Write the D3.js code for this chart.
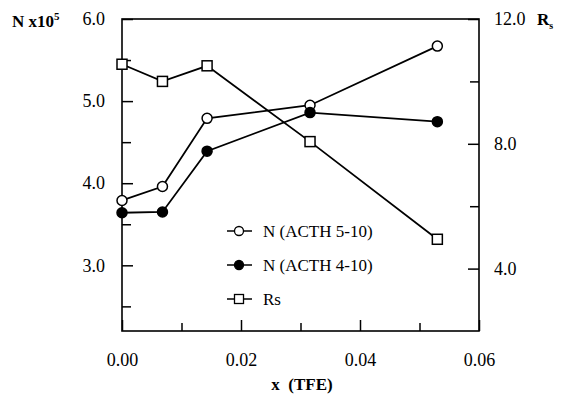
<!DOCTYPE html>
<html>
<head>
<meta charset="utf-8">
<script src="https://d3js.org/d3.v7.min.js"></script>
<style>
  body { margin: 0; background: #fff; }
  svg { display: block; font-family: "Liberation Serif", "Times New Roman", serif; }
  .tick line { stroke: #000; stroke-width: 1.5px; }
  .tick text { font-family: "Liberation Serif", "Times New Roman", serif; font-size: 18px; fill: #000; }
</style>
</head>
<body>
<script>
// data
var tfe = [0.0, 0.0068, 0.0143, 0.0316, 0.053];
var nActh510 = [3.79, 3.96, 4.79, 4.95, 5.67];
var nActh410 = [3.64, 3.65, 4.39, 4.86, 4.75];
var rs = [10.55, 10.0, 10.5, 8.07, 4.94];

var xMajor = [0, 0.02, 0.04, 0.06], xMinor = [0.01, 0.03, 0.05];
var yLMajor = [3, 4, 5, 6], yLMinor = [2.5, 3.5, 4.5, 5.5];
var yRMajor = [4, 8, 12], yRMinor = [6, 10];

var W = 561, H = 396;
var pLeft = 122, pRight = 479, pTop = 19, pBottom = 331;

var svg = d3.select("body").append("svg")
  .attr("width", W).attr("height", H);

var x = d3.scaleLinear().domain([0, 0.06]).range([pLeft, pRight]);
var yL = d3.scaleLinear().domain([2.2, 6.0]).range([pBottom, pTop]);
var yR = d3.scaleLinear().domain([2.0, 12.0]).range([pBottom, pTop]);

// frame
svg.append("rect")
  .attr("x", pLeft).attr("y", pTop)
  .attr("width", pRight - pLeft).attr("height", pBottom - pTop)
  .attr("fill", "none").attr("stroke", "#000").attr("stroke-width", 1.6);

function axisG(gen, tx, ty) {
  var g = svg.append("g").attr("transform", "translate(" + tx + "," + ty + ")").call(gen);
  g.select(".domain").remove();
  return g;
}

// bottom axis, ticks pointing up
axisG(d3.axisBottom(x).tickValues(xMajor).tickSize(-11).tickPadding(22)
  .tickFormat(d3.format(".2f")), 0, pBottom)
  .selectAll("text").attr("dy", "0.71em");
axisG(d3.axisBottom(x).tickValues(xMinor).tickSize(-8).tickFormat(""), 0, pBottom);

// left axis, ticks pointing right
axisG(d3.axisLeft(yL).tickValues(yLMajor).tickSize(-11).tickPadding(17)
  .tickFormat(d3.format(".1f")), pLeft, 0);
axisG(d3.axisLeft(yL).tickValues(yLMinor).tickSize(-9).tickFormat(""), pLeft, 0);

// right axis, ticks pointing left
axisG(d3.axisRight(yR).tickValues(yRMajor).tickSize(-11).tickPadding(15)
  .tickFormat(d3.format(".1f")), pRight, 0);
axisG(d3.axisRight(yR).tickValues(yRMinor).tickSize(-9).tickFormat(""), pRight, 0);

// axis titles
var tl = svg.append("text").attr("x", 12).attr("y", 27)
  .attr("font-size", 17).attr("font-weight", "bold");
tl.append("tspan").text("N x10");
tl.append("tspan").attr("font-size", 11).attr("dy", -7).text("5");

var tr = svg.append("text").attr("x", 537).attr("y", 25)
  .attr("font-size", 17).attr("font-weight", "bold");
tr.append("tspan").text("R");
tr.append("tspan").attr("font-size", 10).attr("dy", 4).text("s");

svg.append("text").attr("x", 302).attr("y", 390)
  .attr("text-anchor", "middle").attr("font-size", 17).attr("font-weight", "bold")
  .attr("xml:space", "preserve").text("x  (TFE)");

// series
var lineL = d3.line().x(function (d, i) { return x(tfe[i]); }).y(function (d) { return yL(d); });
var lineR = d3.line().x(function (d, i) { return x(tfe[i]); }).y(function (d) { return yR(d); });

function drawLine(vals, gen) {
  svg.append("path").datum(vals).attr("d", gen)
    .attr("fill", "none").attr("stroke", "#000").attr("stroke-width", 1.8);
}
drawLine(nActh510, lineL);
drawLine(nActh410, lineL);
drawLine(rs, lineR);

function circles(vals, fill) {
  svg.selectAll(null).data(vals).enter().append("circle")
    .attr("cx", function (d, i) { return x(tfe[i]); })
    .attr("cy", function (d) { return yL(d); })
    .attr("r", 5).attr("fill", fill).attr("stroke", "#000").attr("stroke-width", 1.5);
}
circles(nActh510, "#fff");
circles(nActh410, "#000");

svg.selectAll(null).data(rs).enter().append("rect")
  .attr("x", function (d, i) { return x(tfe[i]) - 5; })
  .attr("y", function (d) { return yR(d) - 5; })
  .attr("width", 10).attr("height", 10)
  .attr("fill", "#fff").attr("stroke", "#000").attr("stroke-width", 1.5);

// legend
var legendItems = [
  { label: "N (ACTH 5-10)", shape: "circle", fill: "#fff" },
  { label: "N (ACTH 4-10)", shape: "circle", fill: "#000" },
  { label: "Rs", shape: "square", fill: "#fff" }
];
var lg = svg.append("g");
legendItems.forEach(function (it, i) {
  var cy = 231 + i * 34;
  lg.append("line").attr("x1", 227).attr("x2", 252).attr("y1", cy).attr("y2", cy)
    .attr("stroke", "#000").attr("stroke-width", 1.5);
  if (it.shape === "circle") {
    lg.append("circle").attr("cx", 239).attr("cy", cy).attr("r", 4.5)
      .attr("fill", it.fill).attr("stroke", "#000").attr("stroke-width", 1.3);
  } else {
    lg.append("rect").attr("x", 234.5).attr("y", cy - 4.5).attr("width", 9).attr("height", 9)
      .attr("fill", it.fill).attr("stroke", "#000").attr("stroke-width", 1.3);
  }
  lg.append("text").attr("x", 263).attr("y", cy + 6).attr("font-size", 17).text(it.label);
});
</script>
</body>
</html>
